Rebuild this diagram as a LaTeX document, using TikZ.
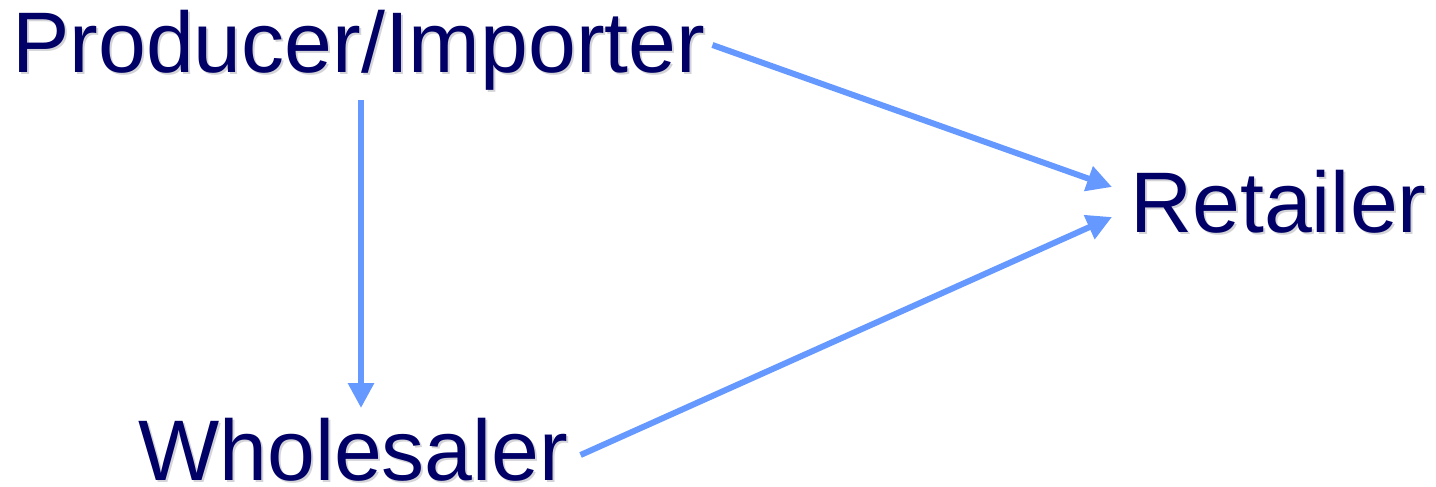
\documentclass[tikz,border=0pt]{standalone}
\usepackage{fontspec}
\setmainfont{Liberation Sans}
\usetikzlibrary{arrows.meta,calc}
\definecolor{navy}{HTML}{000066}
\definecolor{arrowblue}{HTML}{6699FF}
\definecolor{shadowgray}{HTML}{D4D4D8}
\begin{document}
\begin{tikzpicture}[x=1pt,y=-1pt,
  lbl/.style={inner sep=0pt, anchor=base west, text=navy, font=\fontsize{86}{90}\selectfont},
  lblshadow/.style={lbl, text=shadowgray},
  flow/.style={draw=arrowblue, line width=6pt, -{Triangle[length=25pt,width=25pt]}}]
\useasboundingbox (0,0) rectangle (1436,487);
% shadows
\node[lblshadow] at (14,75) {Producer/Importer};
\node[lblshadow] at (1132,234) {Retailer};
\node[lblshadow] at (140,482) {Wholesaler};
% labels
\node[lbl] (prod) at (12,73) {Producer/Importer};
\node[lbl] (ret) at (1130,232) {Retailer};
\node[lbl] (whole) at (138,480) {Wholesaler};
% connectors
\draw[flow] ($(prod.base west)+(349,27)$) -- ($(whole.base west)+(223,-72)$);
\draw[flow] ($(prod.base east)+(7,-28)$) -- ($(ret.base west)+(-18,-45)$);
\draw[flow] ($(whole.base east)+(12,-25)$) -- ($(ret.base west)+(-18,-15)$);
\end{tikzpicture}
\end{document}
